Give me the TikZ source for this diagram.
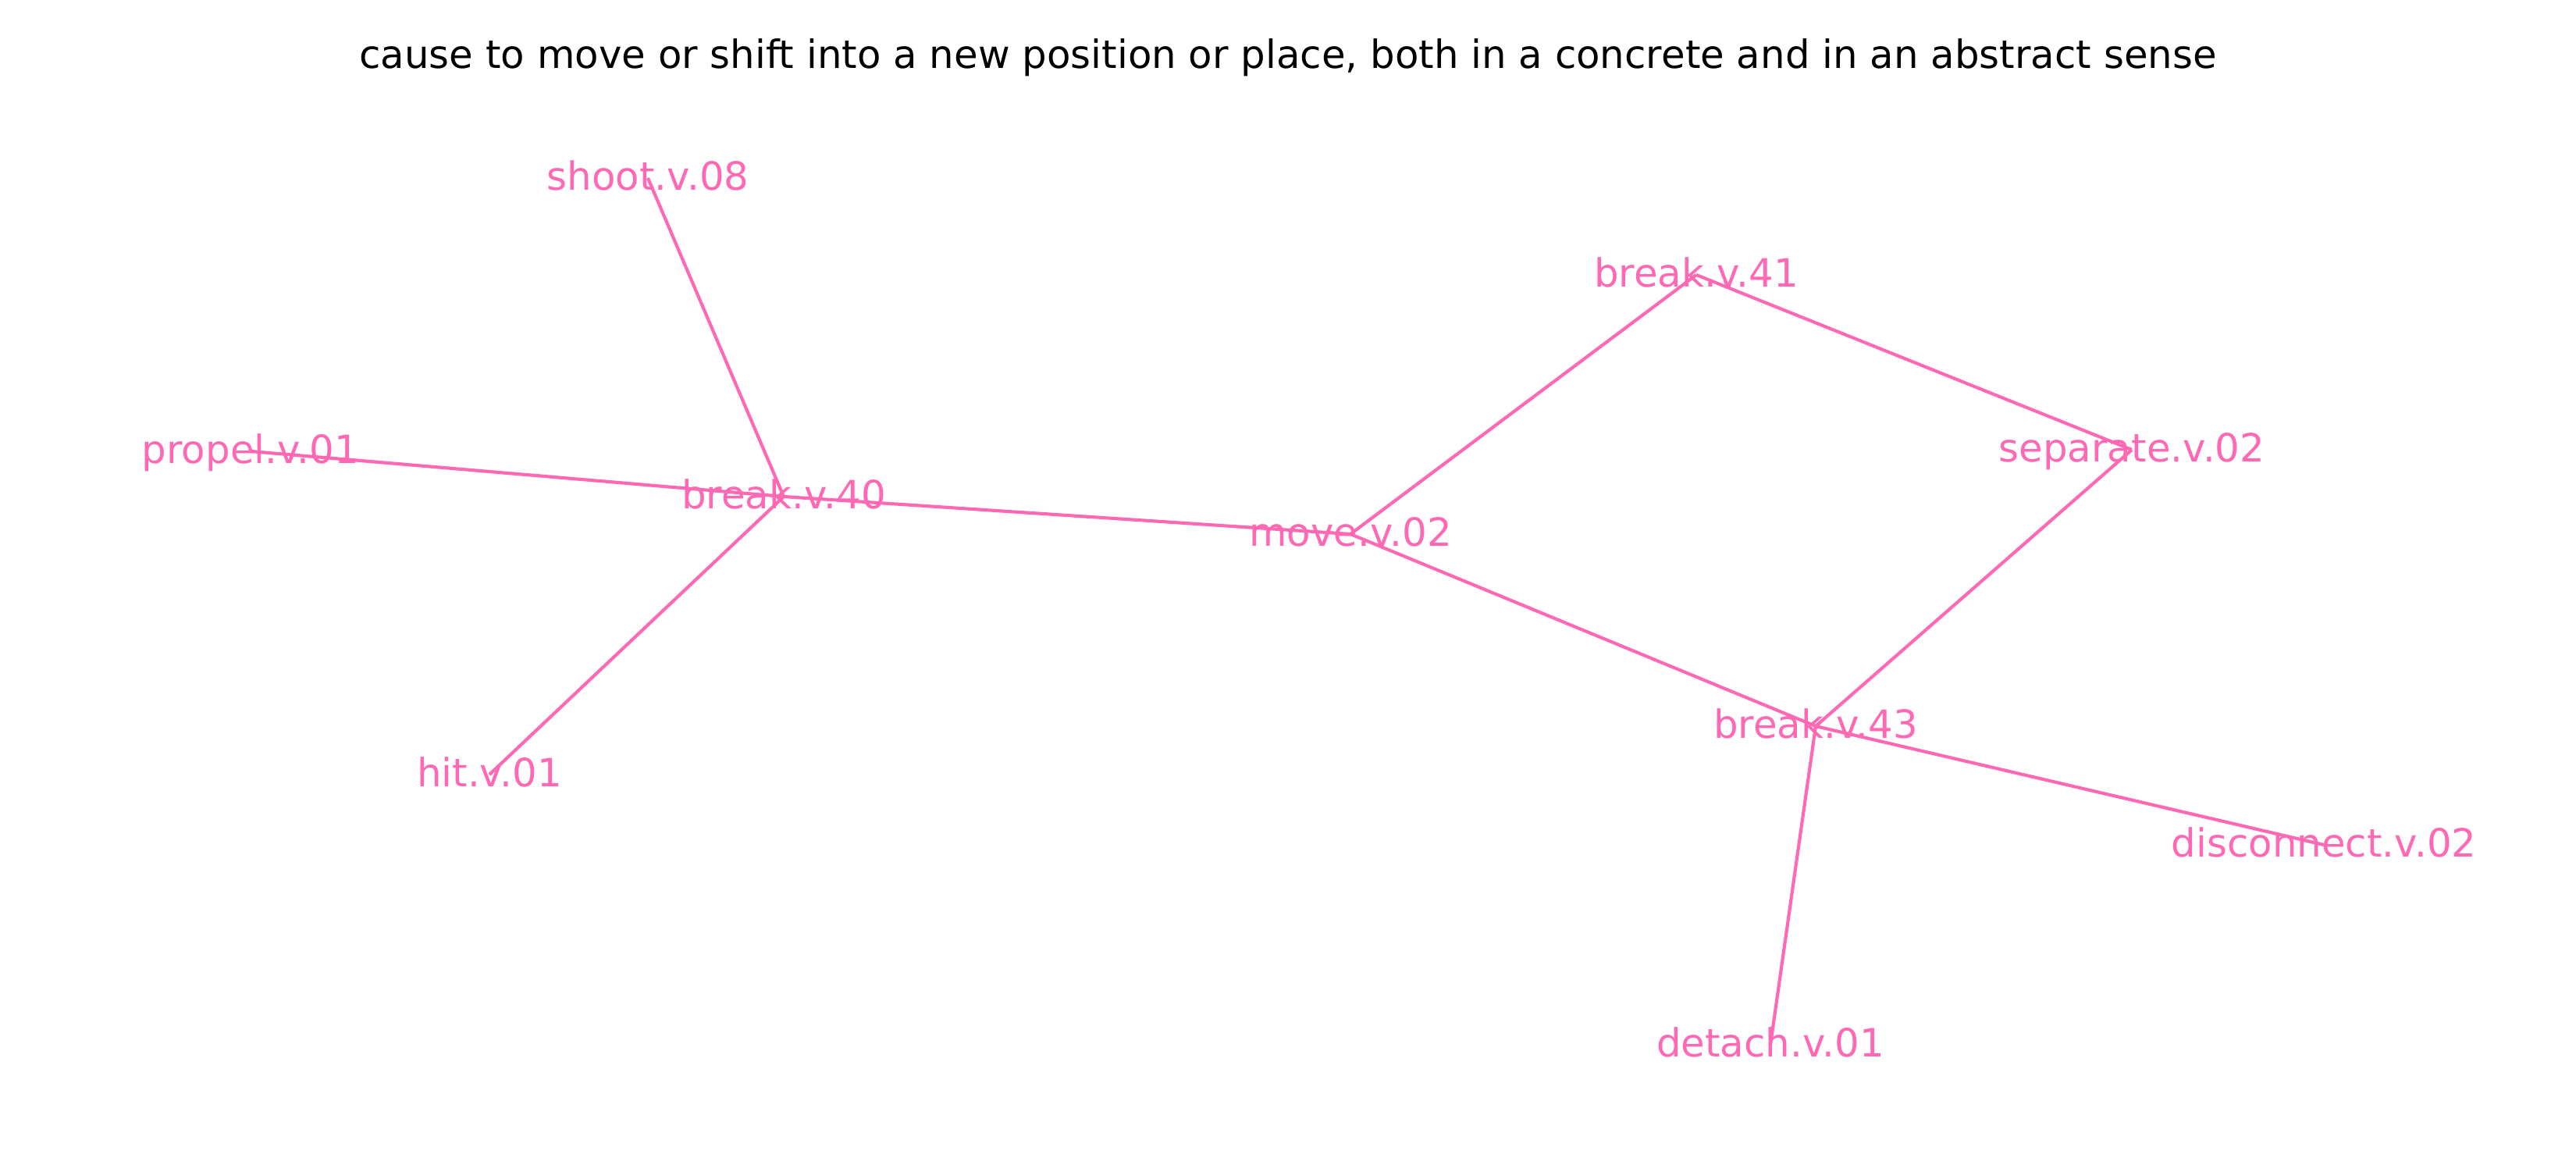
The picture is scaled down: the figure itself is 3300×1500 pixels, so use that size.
\documentclass[tikz,border=0pt]{standalone}
\usepackage{fontspec}
\setmainfont{DejaVu Sans}
\usepackage{xcolor}
\usetikzlibrary{positioning}
\definecolor{synpink}{HTML}{FF69B4}

\begin{document}
\begin{tikzpicture}[x=0.084667mm,y=-0.084667mm]
\tikzstyle{every node}+=[inner sep=0pt,font=\fontsize{12}{14}\selectfont,text height=0.76em,text depth=0em]
\tikzstyle{syn}=[text=synpink]
\tikzstyle{link}=[draw=synpink,line width=1pt]
\useasboundingbox (0,0) rectangle (3300,1500);
\node (title) at (1650,72) {cause to move or shift into a new position or place, both in a concrete and in an abstract sense};
\node [syn] (shoot) at (830,228) {shoot.v.08};
\node [syn] (propel) at (321,578) {propel.v.01};
\node [syn] (brk40) at (1004,636) {break.v.40};
\node [syn] (hit) at (627,992) {hit.v.01};
\node [syn] (move) at (1730,684) {move.v.02};
\node [syn] (brk41) at (2173,352) {break.v.41};
\node [syn] (separate) at (2731,576) {separate.v.02};
\node [syn] (brk43) at (2326,930) {break.v.43};
\node [syn] (disconnect) at (2977,1082) {disconnect.v.02};
\node [syn] (detach) at (2268,1338) {detach.v.01};
\draw [link] (shoot.center) -- (brk40.center);
\draw [link] (propel.center) -- (brk40.center);
\draw [link] (hit.center) -- (brk40.center);
\draw [link] (brk40.center) -- (move.center);
\draw [link] (move.center) -- (brk41.center);
\draw [link] (move.center) -- (brk43.center);
\draw [link] (brk41.center) -- (separate.center);
\draw [link] (separate.center) -- (brk43.center);
\draw [link] (brk43.center) -- (disconnect.center);
\draw [link] (brk43.center) -- (detach.center);
\end{tikzpicture}
\end{document}
